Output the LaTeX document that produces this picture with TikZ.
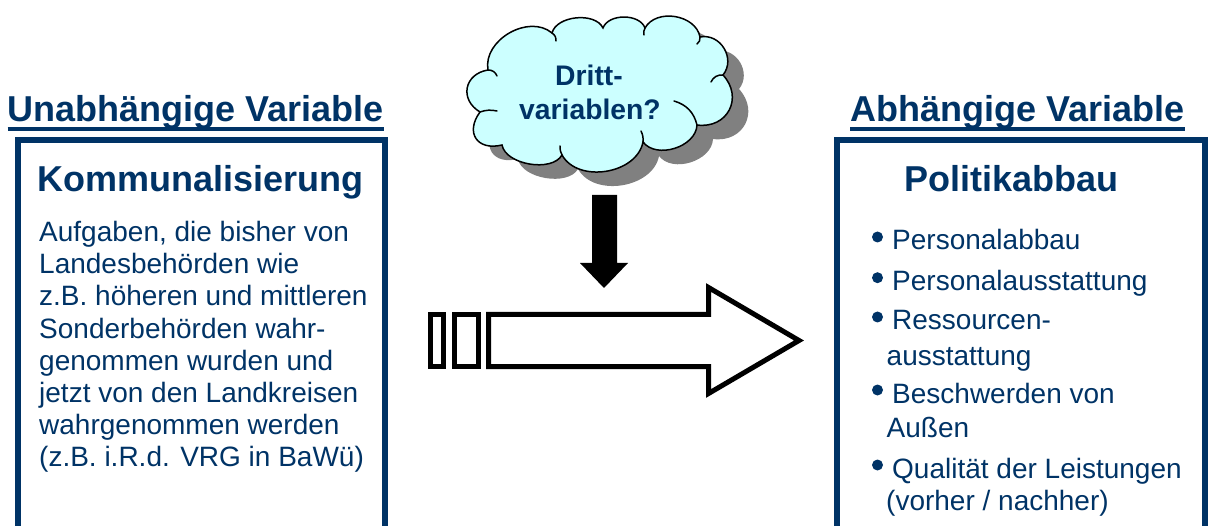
\documentclass[tikz,border=0pt]{standalone}
\usepackage{fontspec}
\setmainfont{Liberation Sans}
\definecolor{navy}{RGB}{0,51,102}
\definecolor{cloudfill}{RGB}{204,255,255}
\definecolor{cloudshade}{RGB}{128,128,128}
\tikzset{
  boxline/.style={draw=navy, line width=6pt, line cap=butt, line join=miter},
  titletext/.style={inner sep=0pt, anchor=base west, text=navy, font=\fontsize{36}{40}\bfseries},
  headtext/.style={inner sep=0pt, anchor=base west, text=navy, font=\fontsize{36}{40}\bfseries},
  bodytext/.style={inner sep=0pt, anchor=base west, text=navy, font=\fontsize{28}{32}\selectfont},
  cloudtext/.style={inner sep=0pt, anchor=base, text=navy, font=\fontsize{28.3}{32}\bfseries},
  ulin/.style={draw=navy, line width=4pt},
  bigarrow/.style={draw=black, fill=white, line width=5pt, line join=miter},
  cloudline/.style={draw=black, line width=1.5pt, line cap=round},
}
% outline of the cloud, one bulge per puff
\def\cloudoutline{(697,-125)
  to[bend right=70, looseness=1.40] (723,-75)
  to[bend right=70, looseness=1.20] (700,-37)
  to[bend right=70, looseness=1.05] (645,-28)
  to[bend right=70, looseness=0.95] (603,-28)
  to[bend right=70, looseness=0.90] (552,-33)
  to[bend right=70, looseness=1.05] (488,-70)
  to[bend right=70, looseness=1.45] (480,-112)
  to[bend right=70, looseness=1.65] (502,-145)
  to[bend right=70, looseness=0.85] (562,-155)
  to[bend right=70, looseness=1.02] (643,-142)
  to[bend right=70, looseness=1.00] (697,-125) -- cycle}
\begin{document}
\begin{tikzpicture}[x=1pt, y=1pt]
\useasboundingbox (0,0) rectangle (1209,-526);

% left column
\node[titletext] (ttlL) at (7.5,-122) {Unabhängige Variable};
\draw[ulin] ([yshift=-6.7pt]ttlL.base west) -- ([yshift=-6.7pt]ttlL.base east);
\draw[boxline] (17.5,-530) -- (17.5,-139.7) -- (385,-139.7) -- (385,-530);
\node[headtext] (hdL) at (37.5,-191.5) {Kommunalisierung};
\foreach \t [count=\i from 0] in {{Aufgaben, die bisher von}, {Landesbehörden wie}, {z.B. höheren und mittleren}, {Sonderbehörden wahr-}, {genommen wurden und}, {jetzt von den Landkreisen}, {wahrgenommen werden}, {(z.B. i.R.d. VRG in BaWü)}}
  \node[bodytext] (txL\i) at (39,{-241.7-32.1*\i}) {\t};

% right column
\node[titletext] (ttlR) at (850,-122) {Abhängige Variable};
\draw[ulin] ([yshift=-6.7pt]ttlR.base west) -- ([yshift=-6.7pt]ttlR.base east);
\draw[boxline] (837,-530) -- (837,-139.7) -- (1205,-139.7) -- (1205,-530);
\node[headtext] (hdR) at (904.5,-191.5) {Politikabbau};
\foreach \y/\t [count=\i] in {250/Personalabbau, 290.7/Personalausstattung, 330/Ressourcen-, 403/Beschwerden von, 478/Qualität der Leistungen}{
  \fill[navy] (877.5,{-\y+13}) circle (5.5pt);
  \node[bodytext] (itR\i) at (892,-\y) {\t};
}
\node[bodytext] (itR3b) at (886.5,-365) {ausstattung};
\node[bodytext] (itR4b) at (886.5,-437) {Außen};
\node[bodytext] (itR5b) at (886,-510) {(vorher / nachher)};

% cloud with its shadow
\begin{scope}[shift={(16,-14)}]
  \fill[cloudshade] \cloudoutline;
\end{scope}
\filldraw[fill=cloudfill, cloudline] \cloudoutline;
% short inner strokes where the puffs overlap
\draw[cloudline] (488,-70) to[bend left=35] (497,-76);
\draw[cloudline] (552,-33) to[bend left=30] (556,-41);
\draw[cloudline] (645,-28) to[bend right=20] (644,-35);
\draw[cloudline] (700,-37) to[bend left=30] (697,-44);
\draw[cloudline] (723,-75) to[bend right=35] (711,-82);
\draw[cloudline] (674,-101) to[bend left=30] (697,-125);
\draw[cloudline] (643,-142) to[bend right=15] (641,-131);
\draw[cloudline] (562,-155) to[bend left=15] (560,-146);
\draw[cloudline] (480,-112) to[bend left=15] (497,-111);
\node[cloudtext] (cl1) at (589,-86) {Dritt-};
\node[cloudtext] (cl2) at (590,-120) {variablen?};

% solid arrow from the cloud down onto the main arrow
\fill[black] (592,-195) -- (617,-195) -- (617,-263) -- (628,-263) -- (604,-288)
  -- (580,-263) -- (592,-263) -- cycle;

% hollow arrow with its two tail bars
\draw[bigarrow] (430.5,-314.5) rectangle (443.5,-366.5);
\draw[bigarrow] (454.5,-314.5) rectangle (478.5,-366.5);
\draw[bigarrow] (488.5,-314.5) -- (708.5,-314.5) -- (708.5,-287.5) -- (799,-340.5)
  -- (708.5,-393.5) -- (708.5,-366.5) -- (488.5,-366.5) -- cycle;
\end{tikzpicture}
\end{document}
